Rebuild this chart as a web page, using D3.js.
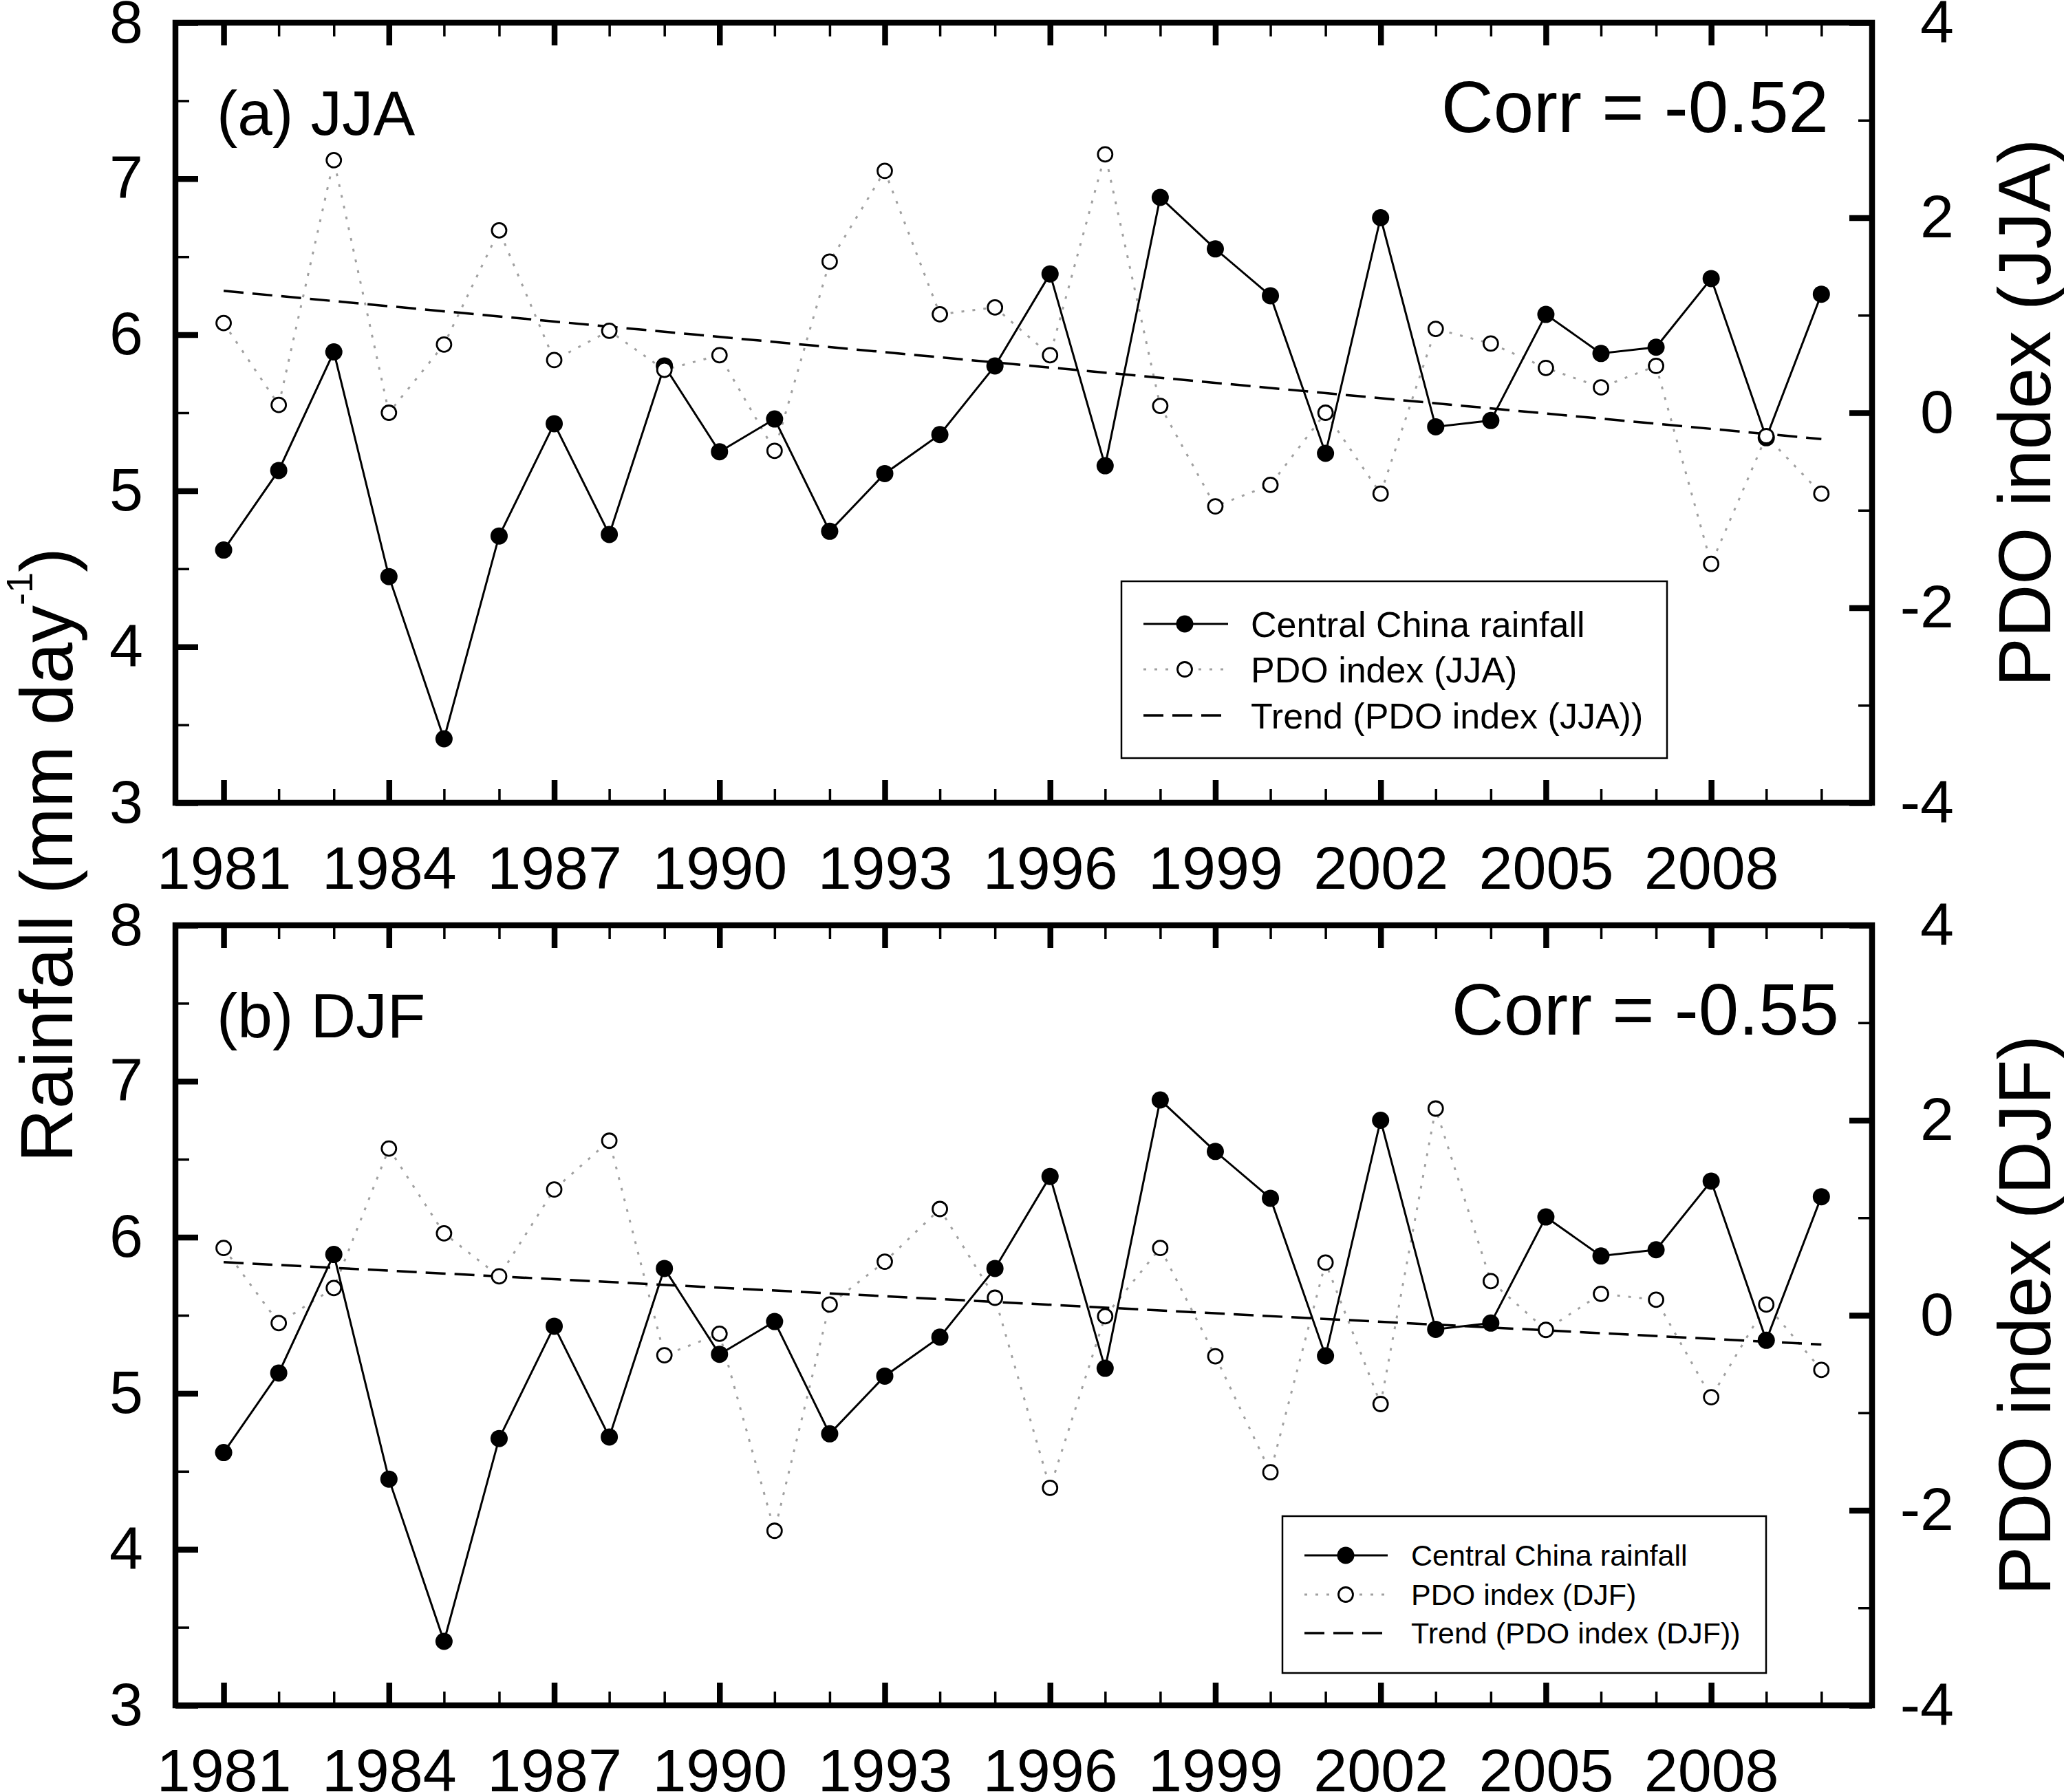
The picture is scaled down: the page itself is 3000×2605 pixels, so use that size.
<!DOCTYPE html>
<html>
<head>
<meta charset="utf-8">
<script src="https://cdn.jsdelivr.net/npm/d3@7"></script>
<style>
  body { margin: 0; background: #fff; }
  svg text { font-family: "Liberation Sans", Arial, Helvetica, sans-serif; fill: #000; }
</style>
</head>
<body>
<div id="chart"></div>
<script>
// data
const years = [1981, 1982, 1983, 1984, 1985, 1986, 1987, 1988, 1989, 1990,
               1991, 1992, 1993, 1994, 1995, 1996, 1997, 1998, 1999, 2000,
               2001, 2002, 2003, 2004, 2005, 2006, 2007, 2008, 2009, 2010];
const rainfall = [4.62, 5.13, 5.89, 4.45, 3.41, 4.71, 5.43, 4.72, 5.80, 5.25,
                  5.46, 4.74, 5.11, 5.36, 5.80, 6.39, 5.16, 6.88, 6.55, 6.25,
                  5.24, 6.75, 5.41, 5.45, 6.13, 5.88, 5.92, 6.36, 5.34, 6.26];
const pdoJJA = [0.92, 0.08, 2.59, 0.00, 0.70, 1.87, 0.54, 0.84, 0.44, 0.59,
                -0.39, 1.55, 2.48, 1.01, 1.08, 0.59, 2.65, 0.07, -0.96, -0.74,
                0.00, -0.83, 0.86, 0.71, 0.46, 0.26, 0.48, -1.55, -0.24, -0.83];
const pdoDJF = [0.69, -0.08, 0.28, 1.71, 0.84, 0.40, 1.29, 1.79, -0.41, -0.19,
                -2.21, 0.11, 0.55, 1.09, 0.18, -1.77, -0.01, 0.69, -0.42, -1.61,
                0.54, -0.91, 2.12, 0.35, -0.15, 0.22, 0.16, -0.84, 0.11, -0.56];
// trend line values at 1981 and 2010
const trendYears = [1981, 2010];
const trendJJA = [1.25, -0.27];
const trendDJF = [0.545, -0.30];

const yearLabels = [1981, 1984, 1987, 1990, 1993, 1996, 1999, 2002, 2005, 2008];
const rainTicks = [3, 4, 5, 6, 7, 8];
const rainMinorTicks = [3.5, 4.5, 5.5, 6.5, 7.5];
const pdoTicks = [-4, -2, 0, 2, 4];
const pdoMinorTicks = [-3, -1, 1, 3];
const panelLabels = ["(a) JJA", "(b) DJF"];
const corrLabels = ["Corr = -0.52", "Corr = -0.55"];
const seasons = ["JJA", "DJF"];

// layout
const W = 3000, H = 2605;
const left = 255, right = 2721;
const majorLen = 33, minorLen = 20;

const panels = [
    { top: 33, bottom: 1167, pdo: pdoJJA, trend: trendJJA, corrX: 2658,
      legend: { x: 1630, y: 845, w: 793, h: 257, rows: [907, 973, 1040],
                lx1: 1662, lx2: 1785, mx: 1722, tx: 1818, fs: 52 } },
    { top: 1345, bottom: 2479, pdo: pdoDJF, trend: trendDJF, corrX: 2673,
      legend: { x: 1864, y: 2204, w: 703, h: 228, rows: [2261, 2318, 2374],
                lx1: 1896, lx2: 2017, mx: 1956, tx: 2051, fs: 43 } }
];

const svg = d3.select("#chart")
    .append("svg")
    .attr("width", W)
    .attr("height", H);

const x = d3.scaleLinear()
    .domain([1980.125, 2010.92])
    .range([left, right]);

const minorYears = years.filter(d => !yearLabels.includes(d));

// style an axis group: no domain, thick/thin ticks
function styleAxis(g, width) {
    g.select(".domain").remove();
    g.attr("font-family", null).attr("font-size", null);
    g.selectAll(".tick line").attr("stroke", "#000").attr("stroke-width", width);
    g.selectAll(".tick text").style("font-size", "88px");
}

panels.forEach((p, i) => {
    const yL = d3.scaleLinear().domain([3, 8]).range([p.bottom, p.top]);
    const yR = d3.scaleLinear().domain([-4, 4]).range([p.bottom, p.top]);
    const g = svg.append("g");

    // bottom axis
    g.append("g").attr("transform", `translate(0,${p.bottom})`)
        .call(d3.axisBottom(x).tickValues(minorYears).tickSize(-minorLen).tickFormat(""))
        .call(a => styleAxis(a, 3.5));
    g.append("g").attr("transform", `translate(0,${p.bottom})`)
        .call(d3.axisBottom(x).tickValues(yearLabels).tickSize(-majorLen).tickPadding(63).tickFormat(d => String(d)))
        .call(a => styleAxis(a, 8.5));

    // top axis
    g.append("g").attr("transform", `translate(0,${p.top})`)
        .call(d3.axisTop(x).tickValues(minorYears).tickSize(-minorLen).tickFormat(""))
        .call(a => styleAxis(a, 3.5));
    g.append("g").attr("transform", `translate(0,${p.top})`)
        .call(d3.axisTop(x).tickValues(yearLabels).tickSize(-majorLen).tickFormat(""))
        .call(a => styleAxis(a, 8.5));

    // left axis (rainfall)
    g.append("g").attr("transform", `translate(${left},0)`)
        .call(d3.axisLeft(yL).tickValues(rainMinorTicks).tickSize(-minorLen).tickFormat(""))
        .call(a => styleAxis(a, 3.5));
    g.append("g").attr("transform", `translate(${left},0)`)
        .call(d3.axisLeft(yL).tickValues(rainTicks).tickSize(-majorLen).tickPadding(47).tickFormat(d => String(d)))
        .call(a => styleAxis(a, 8.5));

    // right axis (PDO)
    g.append("g").attr("transform", `translate(${right},0)`)
        .call(d3.axisRight(yR).tickValues(pdoMinorTicks).tickSize(-minorLen).tickFormat(""))
        .call(a => styleAxis(a, 3.5));
    g.append("g").attr("transform", `translate(${right},0)`)
        .call(d3.axisRight(yR).tickValues(pdoTicks).tickSize(-majorLen).tickFormat(d => String(d)))
        .call(a => styleAxis(a, 8.5))
        .call(a => a.selectAll(".tick text").attr("text-anchor", "end").attr("x", 119));

    // frame
    g.append("rect")
        .attr("x", left).attr("y", p.top)
        .attr("width", right - left).attr("height", p.bottom - p.top)
        .attr("fill", "none").attr("stroke", "#000").attr("stroke-width", 8.5);

    // PDO dotted line
    const pdoLine = d3.line().x((d, j) => x(years[j])).y(d => yR(d));
    g.append("path")
        .attr("d", pdoLine(p.pdo))
        .attr("fill", "none").attr("stroke", "#a0a0a0")
        .attr("stroke-width", 3).attr("stroke-dasharray", "4,12");

    // trend
    const trendLine = d3.line().x((d, j) => x(trendYears[j])).y(d => yR(d));
    g.append("path")
        .attr("d", trendLine(p.trend))
        .attr("fill", "none").attr("stroke", "#000")
        .attr("stroke-width", 3.5).attr("stroke-dasharray", "29,13");

    // rainfall line
    const rainLine = d3.line().x((d, j) => x(years[j])).y(d => yL(d));
    g.append("path")
        .attr("d", rainLine(rainfall))
        .attr("fill", "none").attr("stroke", "#000").attr("stroke-width", 3);

    g.selectAll(".rain-dot")
        .data(rainfall)
        .enter()
        .append("circle")
        .attr("cx", (d, j) => x(years[j]))
        .attr("cy", d => yL(d))
        .attr("r", 12.5)
        .attr("fill", "#000");

    g.selectAll(".pdo-dot")
        .data(p.pdo)
        .enter()
        .append("circle")
        .attr("cx", (d, j) => x(years[j]))
        .attr("cy", d => yR(d))
        .attr("r", 10.5)
        .attr("fill", "#fff")
        .attr("stroke", "#000")
        .attr("stroke-width", 2.8);

    // panel label and correlation
    g.append("text")
        .attr("x", 315).attr("y", p.top + 163)
        .style("font-size", "91px")
        .text(panelLabels[i]);
    g.append("text")
        .attr("x", p.corrX).attr("y", p.top + 159)
        .attr("text-anchor", "end")
        .style("font-size", "105px")
        .text(corrLabels[i]);

    // right axis title
    g.append("text")
        .attr("transform", `translate(2980,${(p.top + p.bottom) / 2}) rotate(-90)`)
        .attr("text-anchor", "middle")
        .style("font-size", "107px")
        .text(`PDO index (${seasons[i]})`);

    // legend
    const L = p.legend;
    const lg = g.append("g");
    lg.append("rect")
        .attr("x", L.x).attr("y", L.y).attr("width", L.w).attr("height", L.h)
        .attr("fill", "#fff").attr("stroke", "#000").attr("stroke-width", 2.5);

    lg.append("line")
        .attr("x1", L.lx1).attr("x2", L.lx2).attr("y1", L.rows[0]).attr("y2", L.rows[0])
        .attr("stroke", "#000").attr("stroke-width", 3);
    lg.append("circle")
        .attr("cx", L.mx).attr("cy", L.rows[0]).attr("r", 12.5).attr("fill", "#000");

    lg.append("line")
        .attr("x1", L.lx1).attr("x2", L.lx2).attr("y1", L.rows[1]).attr("y2", L.rows[1])
        .attr("stroke", "#a0a0a0").attr("stroke-width", 3).attr("stroke-dasharray", "4,12");
    lg.append("circle")
        .attr("cx", L.mx).attr("cy", L.rows[1]).attr("r", 10.5)
        .attr("fill", "#fff").attr("stroke", "#000").attr("stroke-width", 2.8);

    lg.append("line")
        .attr("x1", L.lx1).attr("x2", L.lx2).attr("y1", L.rows[2]).attr("y2", L.rows[2])
        .attr("stroke", "#000").attr("stroke-width", 3.5).attr("stroke-dasharray", "29,13");

    const names = ["Central China rainfall", `PDO index (${seasons[i]})`, `Trend (PDO index (${seasons[i]}))`];
    names.forEach((n, k) => {
        lg.append("text")
            .attr("x", L.tx).attr("y", L.rows[k] + L.fs * 0.358)
            .style("font-size", `${L.fs}px`)
            .text(n);
    });
});

// shared left axis title
const yt = svg.append("text")
    .attr("transform", "translate(105,1243) rotate(-90)")
    .attr("text-anchor", "middle")
    .style("font-size", "108px");
yt.append("tspan").text("Rainfall (mm day");
yt.append("tspan").attr("dy", -58).style("font-size", "54px").text("-1");
yt.append("tspan").attr("dy", 58).style("font-size", "108px").text(")");
</script>
</body>
</html>
